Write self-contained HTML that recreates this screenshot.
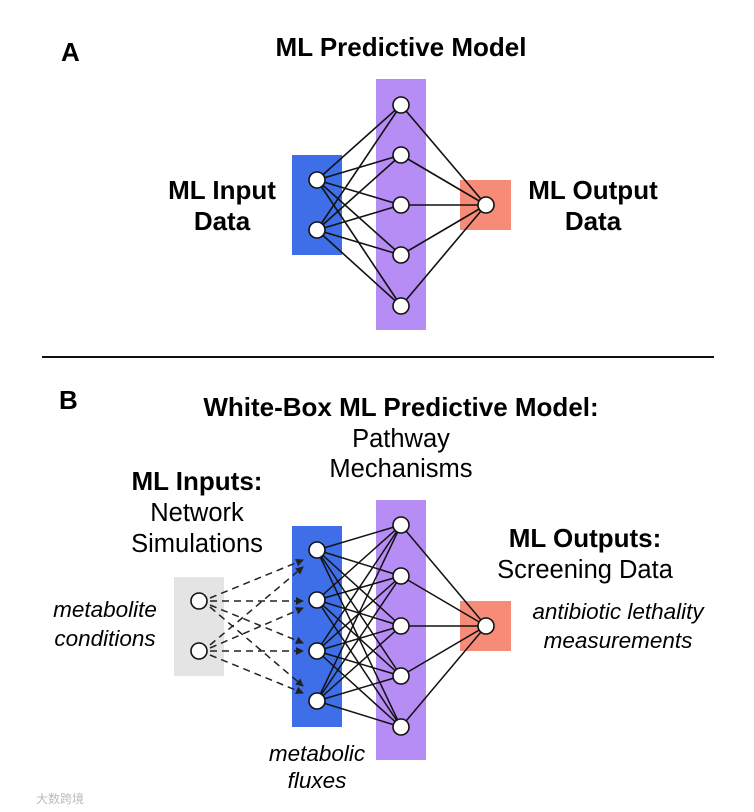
<!DOCTYPE html>
<html><head><meta charset="utf-8"><style>
body{margin:0;background:#fff;}
svg{display:block;font-family:"Liberation Sans","Noto Sans CJK SC",sans-serif;}
.b{font-weight:bold;font-size:26px;}
.n{font-size:25.5px;}
.i{font-style:italic;font-size:22.5px;}
</style></head><body>
<svg width="754" height="812" viewBox="0 0 754 812">
<defs><marker id="ar" markerWidth="8" markerHeight="8" refX="7" refY="4" orient="auto" markerUnits="userSpaceOnUse"><path d="M0,0 L8,4 L0,8 z" fill="#222"/></marker></defs>
<rect width="754" height="812" fill="#fff"/>
<text x="61" y="61" class="b" font-size="24">A</text>
<text x="401" y="56" class="b" text-anchor="middle">ML Predictive Model</text>
<text x="222" y="199" class="b" text-anchor="middle">ML Input</text>
<text x="222" y="230" class="b" text-anchor="middle">Data</text>
<text x="593" y="199" class="b" text-anchor="middle">ML Output</text>
<text x="593" y="230" class="b" text-anchor="middle">Data</text>
<rect x="292" y="155" width="50" height="100" fill="#3f6fe8"/>
<rect x="376" y="79" width="50" height="251" fill="#b68cf5"/>
<rect x="460" y="180" width="51" height="50" fill="#f68b78"/>
<g stroke="#111" stroke-width="1.6">
<line x1="317" y1="180" x2="401" y2="105"/><line x1="317" y1="180" x2="401" y2="155"/><line x1="317" y1="180" x2="401" y2="205"/><line x1="317" y1="180" x2="401" y2="255"/><line x1="317" y1="180" x2="401" y2="306"/>
<line x1="317" y1="230" x2="401" y2="105"/><line x1="317" y1="230" x2="401" y2="155"/><line x1="317" y1="230" x2="401" y2="205"/><line x1="317" y1="230" x2="401" y2="255"/><line x1="317" y1="230" x2="401" y2="306"/>
<line x1="401" y1="105" x2="486" y2="205"/><line x1="401" y1="155" x2="486" y2="205"/><line x1="401" y1="205" x2="486" y2="205"/><line x1="401" y1="255" x2="486" y2="205"/><line x1="401" y1="306" x2="486" y2="205"/>
</g>
<g fill="#fff" stroke="#111" stroke-width="1.6">
<circle cx="317" cy="180" r="8"/><circle cx="317" cy="230" r="8"/>
<circle cx="401" cy="105" r="8"/><circle cx="401" cy="155" r="8"/><circle cx="401" cy="205" r="8"/><circle cx="401" cy="255" r="8"/><circle cx="401" cy="306" r="8"/>
<circle cx="486" cy="205" r="8"/>
</g>
<line x1="42" y1="357" x2="714" y2="357" stroke="#111" stroke-width="2"/>
<text x="59" y="409" class="b" font-size="24">B</text>
<text x="401" y="416" class="b" text-anchor="middle">White-Box ML Predictive Model:</text>
<text x="401" y="447" class="n" text-anchor="middle">Pathway</text>
<text x="401" y="477" class="n" text-anchor="middle">Mechanisms</text>
<text x="197" y="490" class="b" text-anchor="middle">ML Inputs:</text>
<text x="197" y="521" class="n" text-anchor="middle">Network</text>
<text x="197" y="552" class="n" text-anchor="middle">Simulations</text>
<text x="105" y="617" class="i" text-anchor="middle">metabolite</text>
<text x="105" y="646" class="i" text-anchor="middle">conditions</text>
<text x="585" y="547" class="b" text-anchor="middle">ML Outputs:</text>
<text x="585" y="578" class="n" text-anchor="middle">Screening Data</text>
<text x="618" y="619" class="i" text-anchor="middle">antibiotic lethality</text>
<text x="618" y="648" class="i" text-anchor="middle">measurements</text>
<text x="317" y="761" class="i" text-anchor="middle">metabolic</text>
<text x="317" y="788" class="i" text-anchor="middle">fluxes</text>
<rect x="174" y="577" width="50" height="99" fill="#e4e4e4"/>
<rect x="292" y="526" width="50" height="201" fill="#3f6fe8"/>
<rect x="376" y="500" width="50" height="260" fill="#b68cf5"/>
<rect x="460" y="601" width="51" height="50" fill="#f68b78"/>
<g stroke="#222" stroke-width="1.5" stroke-dasharray="7,5" marker-end="url(#ar)" fill="none">
<line x1="210" y1="598" x2="303" y2="560"/><line x1="210" y1="601" x2="303" y2="601"/><line x1="210" y1="605" x2="303" y2="643"/><line x1="210" y1="607" x2="303" y2="686"/>
<line x1="210" y1="645" x2="303" y2="567"/><line x1="210" y1="648" x2="303" y2="608"/><line x1="210" y1="651" x2="303" y2="651"/><line x1="210" y1="655" x2="303" y2="693"/>
</g>
<g stroke="#111" stroke-width="1.5">
<line x1="317" y1="550" x2="401" y2="525"/><line x1="317" y1="550" x2="401" y2="576"/><line x1="317" y1="550" x2="401" y2="626"/><line x1="317" y1="550" x2="401" y2="676"/><line x1="317" y1="550" x2="401" y2="727"/>
<line x1="317" y1="600" x2="401" y2="525"/><line x1="317" y1="600" x2="401" y2="576"/><line x1="317" y1="600" x2="401" y2="626"/><line x1="317" y1="600" x2="401" y2="676"/><line x1="317" y1="600" x2="401" y2="727"/>
<line x1="317" y1="651" x2="401" y2="525"/><line x1="317" y1="651" x2="401" y2="576"/><line x1="317" y1="651" x2="401" y2="626"/><line x1="317" y1="651" x2="401" y2="676"/><line x1="317" y1="651" x2="401" y2="727"/>
<line x1="317" y1="701" x2="401" y2="525"/><line x1="317" y1="701" x2="401" y2="576"/><line x1="317" y1="701" x2="401" y2="626"/><line x1="317" y1="701" x2="401" y2="676"/><line x1="317" y1="701" x2="401" y2="727"/>
<line x1="401" y1="525" x2="486" y2="626"/><line x1="401" y1="576" x2="486" y2="626"/><line x1="401" y1="626" x2="486" y2="626"/><line x1="401" y1="676" x2="486" y2="626"/><line x1="401" y1="727" x2="486" y2="626"/>
</g>
<g fill="#fff" stroke="#111" stroke-width="1.6">
<circle cx="199" cy="601" r="8"/><circle cx="199" cy="651" r="8"/>
<circle cx="317" cy="550" r="8"/><circle cx="317" cy="600" r="8"/><circle cx="317" cy="651" r="8"/><circle cx="317" cy="701" r="8"/>
<circle cx="401" cy="525" r="8"/><circle cx="401" cy="576" r="8"/><circle cx="401" cy="626" r="8"/><circle cx="401" cy="676" r="8"/><circle cx="401" cy="727" r="8"/>
<circle cx="486" cy="626" r="8"/>
</g>
<text x="36" y="803" font-size="12" fill="#bbb">大数跨境</text>
</svg>
</body></html>
